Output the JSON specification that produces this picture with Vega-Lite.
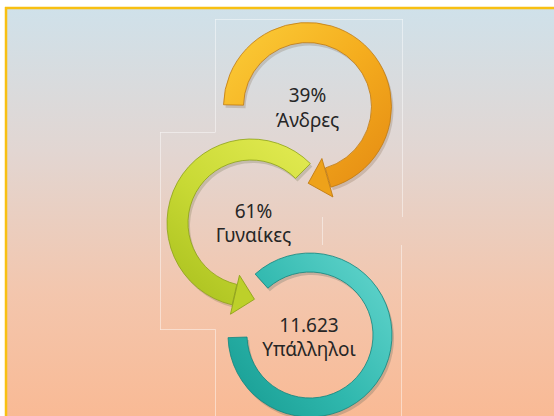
{
  "$schema": "https://vega.github.io/schema/vega-lite/v6.json",
  "width": 554,
  "height": 416,
  "padding": 0,
  "autosize": {"type": "none"},
  "background": "white",
  "config": {"view": {"stroke": null}, "axis": {"disable": true}, "legend": {"disable": true}},
  "data": {"values": [
    {"item": "Άνδρες", "figure": "39%"},
    {"item": "Γυναίκες", "figure": "61%"},
    {"item": "Υπάλληλοι", "figure": "11.623"}
  ]},
  "layer": [
    {
      "transform": [{"filter": {"field": "item", "equal": "Άνδρες"}}],
      "mark": {"type": "rect", "color": {"gradient": "linear", "x1": 0, "y1": 0, "x2": 0, "y2": 1, "stops": [{"offset": 0, "color": "#cfe1ea"}, {"offset": 0.35, "color": "#e2d6d2"}, {"offset": 0.7, "color": "#f3c6ad"}, {"offset": 1, "color": "#f9ba95"}]}},
      "encoding": {
        "x": {"datum": 6, "type": "quantitative", "scale": {"domain": [0, 554], "nice": false, "zero": false}},
        "x2": {"datum": 554},
        "y": {"datum": 8, "type": "quantitative", "scale": {"domain": [0, 416], "nice": false, "zero": false, "reverse": true}},
        "y2": {"datum": 416}
      }
    },
    {
      "transform": [{"filter": {"field": "item", "equal": "Άνδρες"}}],
      "mark": {"type": "rule", "color": "#f8c012", "strokeWidth": 2.5},
      "encoding": {
        "x": {"datum": 6, "type": "quantitative", "scale": {"domain": [0, 554], "nice": false, "zero": false}},
        "y": {"datum": 7, "type": "quantitative", "scale": {"domain": [0, 416], "nice": false, "zero": false, "reverse": true}},
        "y2": {"datum": 416}
      }
    },
    {
      "transform": [{"filter": {"field": "item", "equal": "Άνδρες"}}],
      "mark": {"type": "rule", "color": "#f8c012", "strokeWidth": 2.5},
      "encoding": {
        "x": {"datum": 5, "type": "quantitative", "scale": {"domain": [0, 554], "nice": false, "zero": false}},
        "x2": {"datum": 554},
        "y": {"datum": 8, "type": "quantitative", "scale": {"domain": [0, 416], "nice": false, "zero": false, "reverse": true}}
      }
    },
    {
      "transform": [{"filter": {"field": "item", "equal": "Άνδρες"}}],
      "mark": {"type": "rule", "color": "white", "opacity": 0.45, "strokeWidth": 1},
      "encoding": {
        "x": {"datum": 215, "type": "quantitative", "scale": {"domain": [0, 554], "nice": false, "zero": false}},
        "x2": {"datum": 403},
        "y": {"datum": 19.5, "type": "quantitative", "scale": {"domain": [0, 416], "nice": false, "zero": false, "reverse": true}}
      }
    },
    {
      "transform": [{"filter": {"field": "item", "equal": "Άνδρες"}}],
      "mark": {"type": "rule", "color": "white", "opacity": 0.45, "strokeWidth": 1},
      "encoding": {
        "x": {"datum": 215.5, "type": "quantitative", "scale": {"domain": [0, 554], "nice": false, "zero": false}},
        "y": {"datum": 19.5, "type": "quantitative", "scale": {"domain": [0, 416], "nice": false, "zero": false, "reverse": true}},
        "y2": {"datum": 132}
      }
    },
    {
      "transform": [{"filter": {"field": "item", "equal": "Άνδρες"}}],
      "mark": {"type": "rule", "color": "white", "opacity": 0.45, "strokeWidth": 1},
      "encoding": {
        "x": {"datum": 402.5, "type": "quantitative", "scale": {"domain": [0, 554], "nice": false, "zero": false}},
        "y": {"datum": 19.5, "type": "quantitative", "scale": {"domain": [0, 416], "nice": false, "zero": false, "reverse": true}},
        "y2": {"datum": 217}
      }
    },
    {
      "transform": [{"filter": {"field": "item", "equal": "Άνδρες"}}],
      "mark": {"type": "rule", "color": "white", "opacity": 0.45, "strokeWidth": 1},
      "encoding": {
        "x": {"datum": 160, "type": "quantitative", "scale": {"domain": [0, 554], "nice": false, "zero": false}},
        "x2": {"datum": 215.5},
        "y": {"datum": 132.5, "type": "quantitative", "scale": {"domain": [0, 416], "nice": false, "zero": false, "reverse": true}}
      }
    },
    {
      "transform": [{"filter": {"field": "item", "equal": "Άνδρες"}}],
      "mark": {"type": "rule", "color": "white", "opacity": 0.45, "strokeWidth": 1},
      "encoding": {
        "x": {"datum": 160.5, "type": "quantitative", "scale": {"domain": [0, 554], "nice": false, "zero": false}},
        "y": {"datum": 132.5, "type": "quantitative", "scale": {"domain": [0, 416], "nice": false, "zero": false, "reverse": true}},
        "y2": {"datum": 329.5}
      }
    },
    {
      "transform": [{"filter": {"field": "item", "equal": "Άνδρες"}}],
      "mark": {"type": "rule", "color": "white", "opacity": 0.45, "strokeWidth": 1},
      "encoding": {
        "x": {"datum": 160, "type": "quantitative", "scale": {"domain": [0, 554], "nice": false, "zero": false}},
        "x2": {"datum": 215.5},
        "y": {"datum": 329.5, "type": "quantitative", "scale": {"domain": [0, 416], "nice": false, "zero": false, "reverse": true}}
      }
    },
    {
      "transform": [{"filter": {"field": "item", "equal": "Άνδρες"}}],
      "mark": {"type": "rule", "color": "white", "opacity": 0.45, "strokeWidth": 1},
      "encoding": {
        "x": {"datum": 322.5, "type": "quantitative", "scale": {"domain": [0, 554], "nice": false, "zero": false}},
        "y": {"datum": 217, "type": "quantitative", "scale": {"domain": [0, 416], "nice": false, "zero": false, "reverse": true}},
        "y2": {"datum": 245}
      }
    },
    {
      "transform": [{"filter": {"field": "item", "equal": "Άνδρες"}}],
      "mark": {"type": "rule", "color": "white", "opacity": 0.45, "strokeWidth": 1},
      "encoding": {
        "x": {"datum": 215.5, "type": "quantitative", "scale": {"domain": [0, 554], "nice": false, "zero": false}},
        "y": {"datum": 329.5, "type": "quantitative", "scale": {"domain": [0, 416], "nice": false, "zero": false, "reverse": true}},
        "y2": {"datum": 416}
      }
    },
    {
      "transform": [{"filter": {"field": "item", "equal": "Άνδρες"}}],
      "mark": {"type": "rule", "color": "white", "opacity": 0.45, "strokeWidth": 1},
      "encoding": {
        "x": {"datum": 401.5, "type": "quantitative", "scale": {"domain": [0, 554], "nice": false, "zero": false}},
        "y": {"datum": 245, "type": "quantitative", "scale": {"domain": [0, 416], "nice": false, "zero": false, "reverse": true}},
        "y2": {"datum": 416}
      }
    },
    {
      "transform": [{"filter": {"field": "item", "equal": "Άνδρες"}}],
      "mark": {"type": "arc", "theta": -1.55, "theta2": 2.86, "radius": 84, "radius2": 64, "color": "#5a3a10", "opacity": 0.18},
      "encoding": {
        "x": {"datum": 309.5, "type": "quantitative", "scale": {"domain": [0, 554], "nice": false, "zero": false}},
        "y": {"datum": 109.5, "type": "quantitative", "scale": {"domain": [0, 416], "nice": false, "zero": false, "reverse": true}}
      }
    },
    {
      "transform": [{"filter": {"field": "item", "equal": "Άνδρες"}}],
      "mark": {"type": "arc", "theta": -1.55, "theta2": 2.86, "radius": 84, "radius2": 64, "stroke": "#c07a10", "strokeWidth": 0.8, "color": {"gradient": "linear", "x1": 0, "y1": 0, "x2": 1, "y2": 1, "stops": [{"offset": 0, "color": "#fbcf3a"}, {"offset": 0.5, "color": "#f5ad1e"}, {"offset": 1, "color": "#e48a12"}]}},
      "encoding": {
        "x": {"datum": 307.5, "type": "quantitative", "scale": {"domain": [0, 554], "nice": false, "zero": false}},
        "y": {"datum": 106.5, "type": "quantitative", "scale": {"domain": [0, 416], "nice": false, "zero": false, "reverse": true}}
      }
    },
    {
      "transform": [{"filter": {"field": "item", "equal": "Γυναίκες"}}],
      "mark": {"type": "arc", "theta": -2.915, "theta2": 0.785, "radius": 84, "radius2": 63, "color": "#3a4a10", "opacity": 0.18},
      "encoding": {
        "x": {"datum": 253, "type": "quantitative", "scale": {"domain": [0, 554], "nice": false, "zero": false}},
        "y": {"datum": 226, "type": "quantitative", "scale": {"domain": [0, 416], "nice": false, "zero": false, "reverse": true}}
      }
    },
    {
      "transform": [{"filter": {"field": "item", "equal": "Γυναίκες"}}],
      "mark": {"type": "arc", "theta": -2.915, "theta2": 0.785, "radius": 84, "radius2": 63, "stroke": "#8da218", "strokeWidth": 0.8, "color": {"gradient": "linear", "x1": 0.8, "y1": 0, "x2": 0.1, "y2": 1, "stops": [{"offset": 0, "color": "#dfe84e"}, {"offset": 0.5, "color": "#c8d934"}, {"offset": 1, "color": "#a9c01e"}]}},
      "encoding": {
        "x": {"datum": 251, "type": "quantitative", "scale": {"domain": [0, 554], "nice": false, "zero": false}},
        "y": {"datum": 223, "type": "quantitative", "scale": {"domain": [0, 416], "nice": false, "zero": false, "reverse": true}}
      }
    },
    {
      "transform": [{"filter": {"field": "item", "equal": "Υπάλληλοι"}}],
      "mark": {"type": "arc", "theta": -0.733, "theta2": 4.68, "radius": 82, "radius2": 63, "color": "#0a3a38", "opacity": 0.18},
      "encoding": {
        "x": {"datum": 312, "type": "quantitative", "scale": {"domain": [0, 554], "nice": false, "zero": false}},
        "y": {"datum": 338, "type": "quantitative", "scale": {"domain": [0, 416], "nice": false, "zero": false, "reverse": true}}
      }
    },
    {
      "transform": [{"filter": {"field": "item", "equal": "Υπάλληλοι"}}],
      "mark": {"type": "arc", "theta": -0.733, "theta2": 4.68, "radius": 82, "radius2": 63, "stroke": "#12857e", "strokeWidth": 0.8, "color": {"gradient": "linear", "x1": 1, "y1": 0.2, "x2": 0, "y2": 1, "stops": [{"offset": 0, "color": "#5ed2ca"}, {"offset": 0.5, "color": "#30b8ae"}, {"offset": 1, "color": "#159a90"}]}},
      "encoding": {
        "x": {"datum": 310, "type": "quantitative", "scale": {"domain": [0, 554], "nice": false, "zero": false}},
        "y": {"datum": 335, "type": "quantitative", "scale": {"domain": [0, 416], "nice": false, "zero": false, "reverse": true}}
      }
    },
    {
      "transform": [{"filter": {"field": "item", "equal": "Άνδρες"}}],
      "mark": {"type": "point", "shape": "M -0.5 0 L 0.5 -1 L 0.5 1 Z", "filled": true, "size": 1600, "angle": 344, "opacity": 1, "color": "#eea21a", "stroke": "#c07a10", "strokeWidth": 0.8},
      "encoding": {
        "x": {"datum": 317.8, "type": "quantitative", "scale": {"domain": [0, 554], "nice": false, "zero": false}},
        "y": {"datum": 180.5, "type": "quantitative", "scale": {"domain": [0, 416], "nice": false, "zero": false, "reverse": true}}
      }
    },
    {
      "transform": [{"filter": {"field": "item", "equal": "Γυναίκες"}}],
      "mark": {"type": "point", "shape": "M -0.5 0 L 0.5 -1 L 0.5 1 Z", "filled": true, "size": 1600, "angle": 193, "opacity": 1, "color": "#bdd02a", "stroke": "#8da218", "strokeWidth": 0.8},
      "encoding": {
        "x": {"datum": 244.7, "type": "quantitative", "scale": {"domain": [0, 554], "nice": false, "zero": false}},
        "y": {"datum": 297, "type": "quantitative", "scale": {"domain": [0, 416], "nice": false, "zero": false, "reverse": true}}
      }
    },
    {
      "transform": [{"filter": {"field": "item", "equal": "Άνδρες"}}],
      "mark": {"type": "text", "font": "Noto Sans", "fontSize": 19, "color": "#262626", "align": "center", "baseline": "alphabetic"},
      "encoding": {
        "text": {"field": "figure"},
        "x": {"datum": 307.5, "type": "quantitative", "scale": {"domain": [0, 554], "nice": false, "zero": false}},
        "y": {"datum": 102, "type": "quantitative", "scale": {"domain": [0, 416], "nice": false, "zero": false, "reverse": true}}
      }
    },
    {
      "transform": [{"filter": {"field": "item", "equal": "Άνδρες"}}],
      "mark": {"type": "text", "font": "Noto Sans", "fontSize": 19, "color": "#262626", "align": "center", "baseline": "alphabetic"},
      "encoding": {
        "text": {"field": "item"},
        "x": {"datum": 307.5, "type": "quantitative", "scale": {"domain": [0, 554], "nice": false, "zero": false}},
        "y": {"datum": 127, "type": "quantitative", "scale": {"domain": [0, 416], "nice": false, "zero": false, "reverse": true}}
      }
    },
    {
      "transform": [{"filter": {"field": "item", "equal": "Γυναίκες"}}],
      "mark": {"type": "text", "font": "Noto Sans", "fontSize": 19, "color": "#262626", "align": "center", "baseline": "alphabetic"},
      "encoding": {
        "text": {"field": "figure"},
        "x": {"datum": 253.5, "type": "quantitative", "scale": {"domain": [0, 554], "nice": false, "zero": false}},
        "y": {"datum": 218, "type": "quantitative", "scale": {"domain": [0, 416], "nice": false, "zero": false, "reverse": true}}
      }
    },
    {
      "transform": [{"filter": {"field": "item", "equal": "Γυναίκες"}}],
      "mark": {"type": "text", "font": "Noto Sans", "fontSize": 19, "color": "#262626", "align": "center", "baseline": "alphabetic"},
      "encoding": {
        "text": {"field": "item"},
        "x": {"datum": 253.5, "type": "quantitative", "scale": {"domain": [0, 554], "nice": false, "zero": false}},
        "y": {"datum": 242, "type": "quantitative", "scale": {"domain": [0, 416], "nice": false, "zero": false, "reverse": true}}
      }
    },
    {
      "transform": [{"filter": {"field": "item", "equal": "Υπάλληλοι"}}],
      "mark": {"type": "text", "font": "Noto Sans", "fontSize": 19, "color": "#262626", "align": "center", "baseline": "alphabetic"},
      "encoding": {
        "text": {"field": "figure"},
        "x": {"datum": 309, "type": "quantitative", "scale": {"domain": [0, 554], "nice": false, "zero": false}},
        "y": {"datum": 332, "type": "quantitative", "scale": {"domain": [0, 416], "nice": false, "zero": false, "reverse": true}}
      }
    },
    {
      "transform": [{"filter": {"field": "item", "equal": "Υπάλληλοι"}}],
      "mark": {"type": "text", "font": "Noto Sans", "fontSize": 19, "color": "#262626", "align": "center", "baseline": "alphabetic"},
      "encoding": {
        "text": {"field": "item"},
        "x": {"datum": 309, "type": "quantitative", "scale": {"domain": [0, 554], "nice": false, "zero": false}},
        "y": {"datum": 356, "type": "quantitative", "scale": {"domain": [0, 416], "nice": false, "zero": false, "reverse": true}}
      }
    }
  ]
}
